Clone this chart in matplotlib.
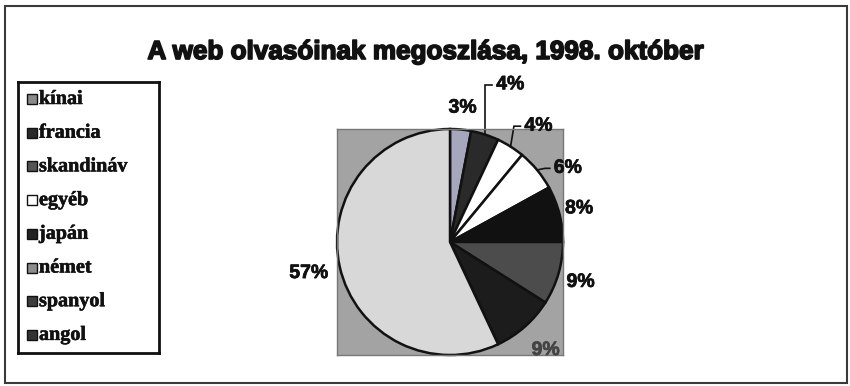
import numpy as np
import matplotlib
matplotlib.use("Agg")
import matplotlib.pyplot as plt
import matplotlib.patheffects as pe
from matplotlib.patches import Rectangle

# ---- data ----
title = "A web olvasóinak megoszlása, 1998. október"
categories = ["kínai", "francia", "skandináv", "egyéb", "japán", "német", "spanyol", "angol"]
values = [3, 4, 4, 6, 8, 9, 9, 57]
labels = ["3%", "4%", "4%", "6%", "8%", "9%", "9%", "57%"]

# ---- styles ----
pie_colors = ["#a6a6bc", "#2a2a2a", "#ffffff", "#ffffff", "#111111", "#4c4c4c", "#1c1c1c", "#d8d8d8"]
legend_colors = ["#8a8a8a", "#2a2a2a", "#555555", "#ffffff", "#222222", "#8c8c8c", "#3c3c3c", "#333333"]
label_radius = [1.19, 1.49, 1.29, 1.23, 1.18, 1.21, 1.28, 1.28]
label_angle_shift = [0, -3, -5, -7.6, 0, -1, 0, 0]
leader = [None, 0.0, 0.03, 0.07, None, None, None, None]  # elbow x offset (data units)
label_colors = ["#111111"] * 8
label_colors[6] = "#444444"

W, H = 850, 386
fig = plt.figure(figsize=(W / 100, H / 100), dpi=100)
fig.patch.set_facecolor("white")

# outer frame
fig.add_artist(Rectangle((5 / W, 3 / H), (847 - 5) / W, (383 - 6) / H,
                         transform=fig.transFigure, fill=False, lw=1.5, ec="#3a3a3a"))

# title
fig.text(426 / W, 1 - 52 / H, title, ha="center", va="center", fontsize=18.8,
         fontweight="bold", family="Liberation Sans", color="#111111",
         path_effects=[pe.withStroke(linewidth=1.2, foreground="#111111")])

# pie axes
cx, cy, r = 450, 242, 113
ax = fig.add_axes([(cx - r) / W, (H - cy - r) / H, 2 * r / W, 2 * r / H])
wedges, _ = ax.pie(values, colors=pie_colors, startangle=90, counterclock=False, radius=1,
                   wedgeprops=dict(edgecolor="#111111", linewidth=1.8))
ax.set_frame_on(True)
ax.patch.set_visible(True)
ax.set_facecolor("#a3a3a3")
ax.set_xlim(-1.0, 1.0)
ax.set_ylim(-1.0, 1.0)
ax.set_aspect("equal")
ax.set_xticks([])
ax.set_yticks([])
for s in ax.spines.values():
    s.set_visible(True)
    s.set_color("#777777")
    s.set_linewidth(1)

vals = np.array(values, dtype=float)
cum = np.cumsum(vals)
mid = 90 - (cum - vals / 2) / vals.sum() * 360
for i, lab in enumerate(labels):
    a = np.deg2rad(mid[i] + label_angle_shift[i])
    lx = label_radius[i] * np.cos(a)
    ly = label_radius[i] * np.sin(a)
    ax.text(lx, ly, lab, ha="center", va="center", fontsize=14, fontweight="bold",
            family="Liberation Sans", color=label_colors[i], clip_on=False,
            path_effects=[pe.withStroke(linewidth=0.5, foreground=label_colors[i])])
    if leader[i] is not None:
        am = np.deg2rad(mid[i])
        ex, ey = np.cos(am), np.sin(am)
        left = lx - 0.16
        ax.plot([ex, ex + leader[i], left], [ey, ly, ly], color="#111111", lw=1.2,
                clip_on=False, solid_joinstyle="miter")

# legend box
lx0, ly0, lw_, lh_ = 18, 82, 141, 271
lax = fig.add_axes([lx0 / W, (H - ly0 - lh_) / H, lw_ / W, lh_ / H])
lax.set_xlim(0, lw_)
lax.set_ylim(lh_, 0)
lax.set_xticks([])
lax.set_yticks([])
for s in lax.spines.values():
    s.set_color("#111111")
    s.set_linewidth(2)
for i, name in enumerate(categories):
    y = 17 + i * 33.7
    lax.add_patch(Rectangle((9, y - 5), 10, 10, facecolor=legend_colors[i],
                            edgecolor="#111111", lw=1))
    lax.text(21, y, name, ha="left", va="center", fontsize=14.5, fontweight="bold",
             family="Liberation Serif", color="#111111",
             path_effects=[pe.withStroke(linewidth=0.4, foreground="#111111")])

fig.savefig("out.png", dpi=100)
